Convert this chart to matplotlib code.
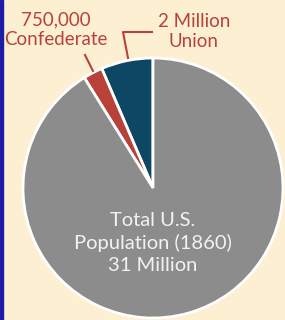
import matplotlib.pyplot as plt

# Population figures (millions)
labels = ["Union", "Confederate", "Rest of population"]
values = [2.0, 0.75, 31 - 2.0 - 0.75]
colors = ["#0d4763", "#b8423a", "#8c8c8c"]

confed_lines = ["750,000", "Confederate"]
union_lines = ["2 Million", "Union"]
center_lines = ["Total U.S.", "Population (1860)", "31 Million"]

W, H = 285, 320
fig = plt.figure(figsize=(W / 100, H / 100), dpi=100)
fig.patch.set_facecolor("#fcefd2")
ax = fig.add_axes([0, 0, 1, 1])

ax.pie(values, colors=colors, startangle=90, counterclock=True,
       center=(153, H - 188), radius=130, frame=True,
       wedgeprops=dict(edgecolor="white", linewidth=2))
ax.set_xlim(0, W)
ax.set_ylim(0, H)
ax.set_aspect("equal")
ax.axis("off")

# thin blue border on the left
ax.axvspan(0, 2.5, color="#1c1ca8", zorder=5)

red = "#b8423a"
font = "Lato"
for i, s in enumerate(confed_lines):
    ax.text(56, H - (25 + 20 * i), s, ha="center", va="baseline", color=red,
            fontsize=13.5, family=font)
for i, s in enumerate(union_lines):
    ax.text(194, H - (27 + 20 * i), s, ha="center", va="baseline", color=red,
            fontsize=13.5, family=font)

# leader lines
ax.plot([85, 93], [H - 55, H - 71], color=red, lw=1.5)
ax.plot([152, 123, 128], [H - 32, H - 32, H - 58], color=red, lw=1.5)

for i, s in enumerate(center_lines):
    ax.text(153, H - (226 + 22.5 * i), s, ha="center", va="baseline",
            color="#f2f2f2", fontsize=14.5, family=font)

fig.savefig("out.png", dpi=100, facecolor=fig.get_facecolor())
